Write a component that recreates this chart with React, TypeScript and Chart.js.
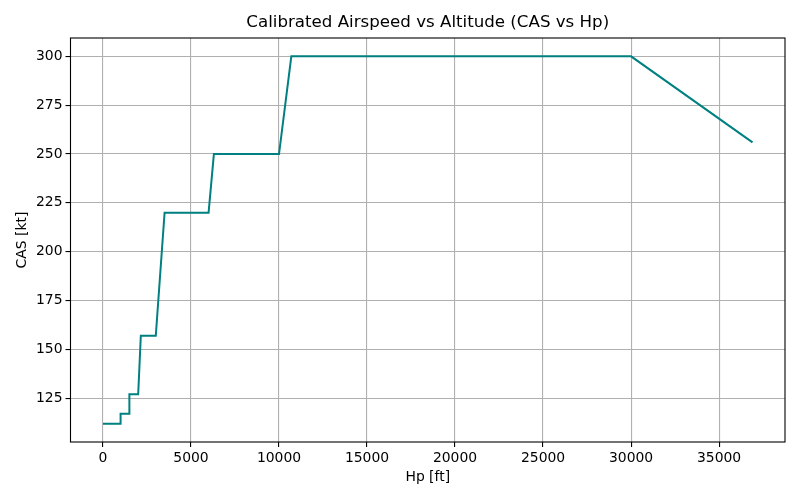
import React, { useEffect, useRef } from "react";
import { Chart, registerables } from "chart.js";

Chart.register(...registerables);

const hpFt = [0, 1000, 1000, 1500, 1500, 2000, 2150, 3000, 3500, 6000, 6300, 10000, 10700, 30000, 36900];
const casKt = [112, 112, 117, 117, 127, 127, 157, 157, 220, 220, 250, 250, 300, 300, 256];
const xTicks = [0, 5000, 10000, 15000, 20000, 25000, 30000, 35000];
const yTicks = [125, 150, 175, 200, 225, 250, 275, 300];
const titleText = "Calibrated Airspeed vs Altitude (CAS vs Hp)";

const FONT = "'DejaVu Sans', sans-serif";

const framePlugin = {
  id: "frame",
  afterDraw(chart: any) {
    const { ctx, chartArea } = chart;
    ctx.save();
    ctx.strokeStyle = "#000";
    ctx.lineWidth = 1.1;
    ctx.strokeRect(chartArea.left, chartArea.top, chartArea.right - chartArea.left, chartArea.bottom - chartArea.top);
    ctx.fillStyle = "#000";
    ctx.font = `16.67px ${FONT}`;
    ctx.textAlign = "center";
    ctx.textBaseline = "middle";
    ctx.fillText(titleText, (chartArea.left + chartArea.right) / 2, 22.5);
    ctx.restore();
  },
};

export default function App() {
  const ref = useRef<HTMLCanvasElement | null>(null);
  useEffect(() => {
    document.body.style.margin = "0";
    const data = hpFt.map((x, i) => ({ x, y: casKt[i] }));
    const chart = new Chart(ref.current as HTMLCanvasElement, {
      type: "line",
      data: {
        datasets: [
          {
            data,
            borderColor: "#008080",
            borderWidth: 2,
            pointRadius: 0,
            fill: false,
            tension: 0,
          },
        ],
      },
      plugins: [framePlugin],
      options: {
        animation: false,
        responsive: false,
        devicePixelRatio: 1,
        layout: { padding: { left: 0, right: 15, top: 38, bottom: 0 } },
        plugins: {
          legend: { display: false },
          tooltip: { enabled: false },
          title: { display: false },
        },
        scales: {
          x: {
            type: "linear",
            min: -1845,
            max: 38745,
            afterBuildTicks: (axis: any) => {
              axis.ticks = xTicks.map((v) => ({ value: v }));
            },
            afterFit: (axis: any) => {
              axis.height = 58;
            },
            ticks: {
              color: "#000",
              font: { family: FONT, size: 13.9 },
              padding: 3,
              maxRotation: 0,
              autoSkip: false,
              callback: (v: any) => String(v),
            },
            grid: {
              color: "#b0b0b0",
              lineWidth: 1.1,
              tickColor: "#000",
              tickLength: 5,
            },
            border: { display: false },
            title: {
              display: true,
              text: "Hp [ft]",
              color: "#000",
              font: { family: FONT, size: 13.9, lineHeight: 1.2 },
              padding: { top: 0, bottom: 14.6 },
            },
          },
          y: {
            type: "linear",
            min: 102.6,
            max: 309.4,
            afterBuildTicks: (axis: any) => {
              axis.ticks = yTicks.map((v) => ({ value: v }));
            },
            afterFit: (axis: any) => {
              axis.width = 70.5;
            },
            ticks: {
              color: "#000",
              font: { family: FONT, size: 13.9 },
              padding: 3,
              autoSkip: false,
              callback: (v: any) => String(v),
            },
            grid: {
              color: "#b0b0b0",
              lineWidth: 1.1,
              tickColor: "#000",
              tickLength: 5,
            },
            border: { display: false },
            title: {
              display: true,
              text: "CAS [kt]",
              color: "#000",
              font: { family: FONT, size: 13.9, lineHeight: 1.2 },
              padding: { top: 13.6, bottom: 0 },
            },
          },
        },
      },
    } as any);
    return () => chart.destroy();
  }, []);
  return (
    <div style={{ position: "absolute", left: 0, top: 0, width: 800, height: 500, background: "#fff" }}>
      <canvas ref={ref} width={800} height={500} style={{ width: 800, height: 500 }} />
    </div>
  );
}
